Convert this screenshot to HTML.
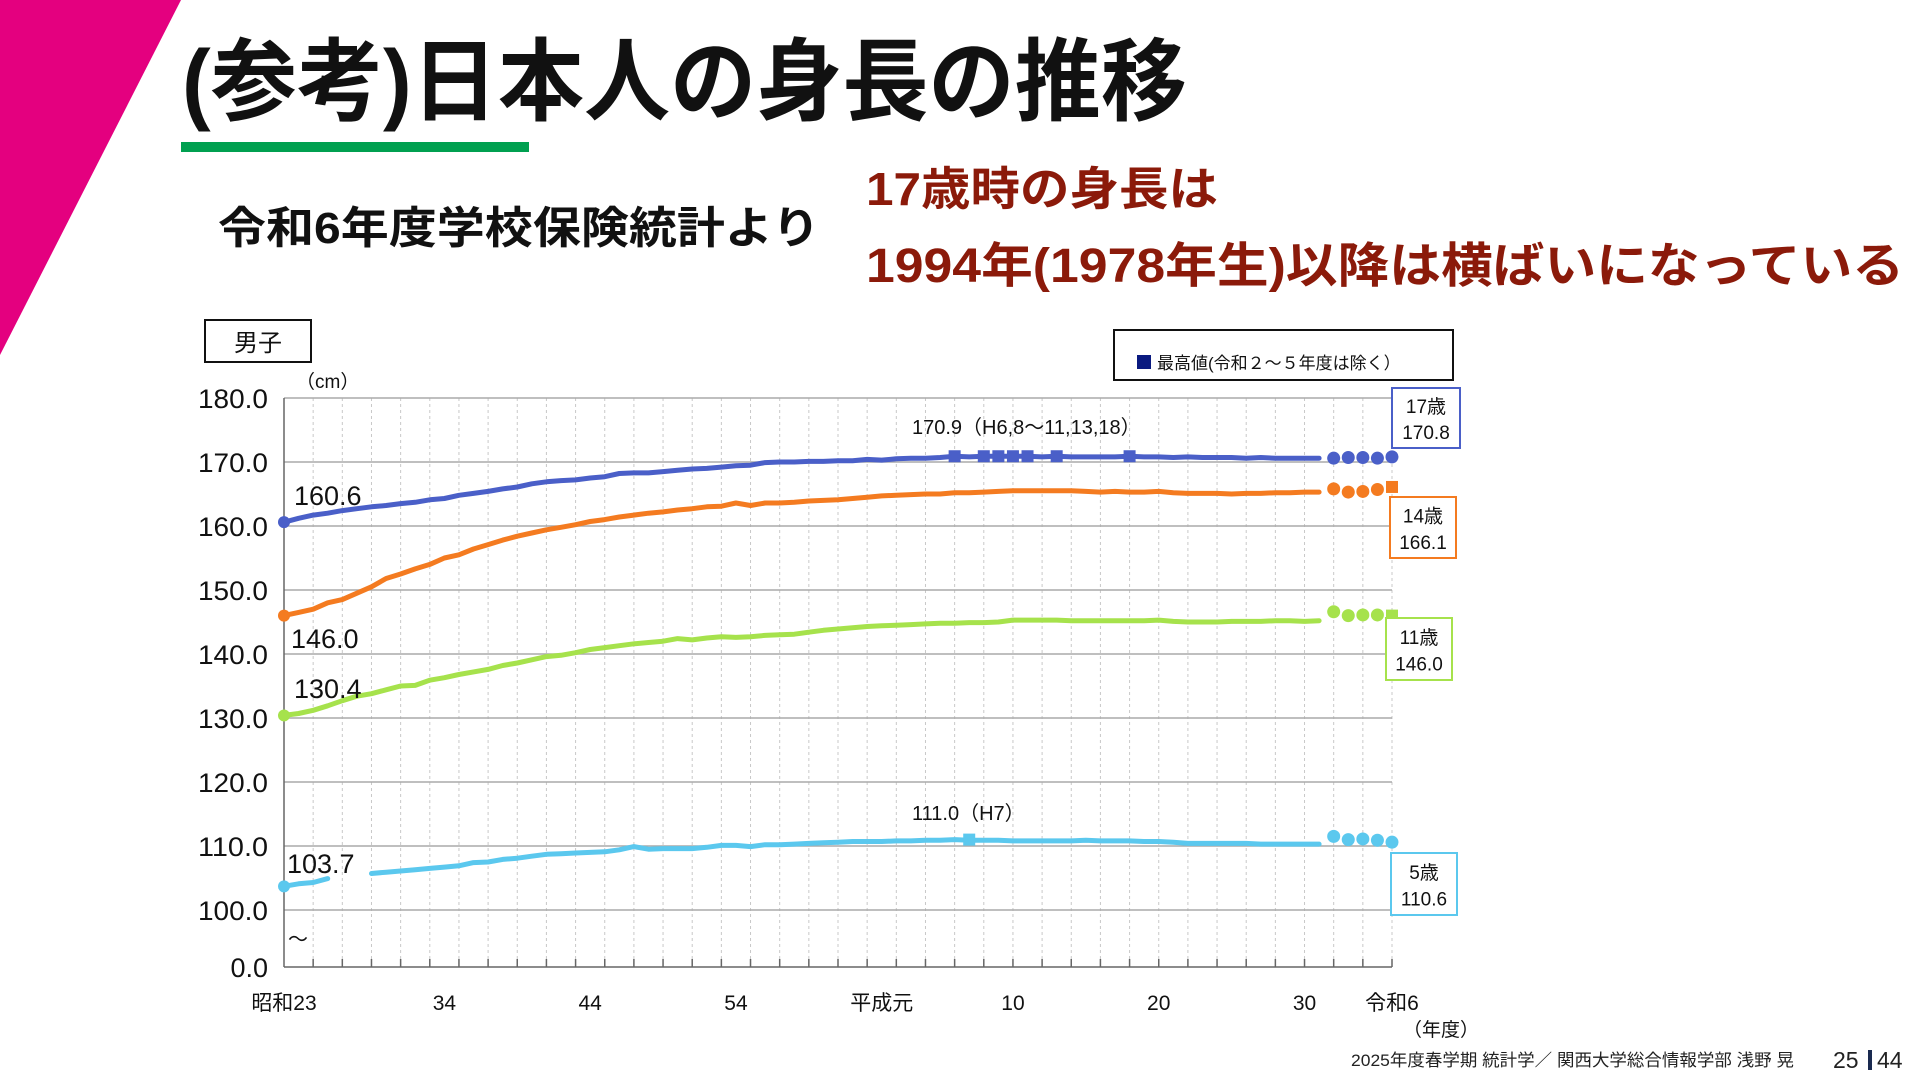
<!DOCTYPE html>
<html><head><meta charset="utf-8"><style>
html,body{margin:0;padding:0;background:#fff;}
svg{display:block;}
text{font-family:"Liberation Sans","Noto Sans CJK JP",sans-serif;}
</style></head><body>
<svg id="c" width="1920" height="1080" viewBox="0 0 1920 1080" xmlns="http://www.w3.org/2000/svg">
<polygon points="0,0 181,0 0,355" fill="#E4007F"/>
<text x="182" y="113" font-size="90" font-weight="bold" fill="#111" textLength="1005" lengthAdjust="spacingAndGlyphs">(参考)日本人の身長の推移</text>
<rect x="181" y="142" width="348" height="10" fill="#00A050"/>
<text x="218" y="243" font-size="44" font-weight="bold" fill="#111" textLength="602" lengthAdjust="spacingAndGlyphs">令和6年度学校保険統計より</text>
<text x="866" y="205" font-size="46" font-weight="bold" fill="#8B1A0A" textLength="352" lengthAdjust="spacingAndGlyphs">17歳時の身長は</text>
<text x="866" y="282" font-size="48" font-weight="bold" fill="#8B1A0A" textLength="1038" lengthAdjust="spacingAndGlyphs">1994年(1978年生)以降は横ばいになっている</text>
<rect x="205" y="320" width="106" height="42" fill="#fff" stroke="#111" stroke-width="2"/>
<text x="258" y="351" font-size="24" text-anchor="middle" fill="#111">男子</text>
<rect x="1114" y="330" width="339" height="50" fill="#fff" stroke="#111" stroke-width="2"/>
<rect x="1137" y="355" width="14" height="14" fill="#0A1A80"/>
<text x="1157" y="369" font-size="17" fill="#111">最高値(令和２～５年度は除く）</text>
<text x="1351" y="1066" font-size="17" fill="#222" textLength="443" lengthAdjust="spacingAndGlyphs">2025年度春学期  統計学／  関西大学総合情報学部  浅野  晃</text>
<text x="1833" y="1068" font-size="23" fill="#222">25</text>
<rect x="1868" y="1050" width="4" height="20" fill="#1A2A50"/>
<text x="1877" y="1068" font-size="23" fill="#222">44</text>
<g id="plot"></g>
</svg>
<script>
const startYear = 1948;
const h17 = [160.6,161.2,161.7,162.0,162.4,162.7,163.0,163.2,163.5,163.7,164.1,164.3,164.8,165.1,165.4,165.8,166.1,166.6,166.9,167.1,167.2,167.5,167.7,168.2,168.3,168.3,168.5,168.7,168.9,169.0,169.2,169.4,169.5,169.9,170.0,170.0,170.1,170.1,170.2,170.2,170.4,170.3,170.5,170.6,170.6,170.7,170.9,170.8,170.9,170.9,170.9,170.9,170.8,170.9,170.8,170.8,170.8,170.8,170.9,170.8,170.8,170.7,170.8,170.7,170.7,170.7,170.6,170.7,170.6,170.6,170.6,170.6];
const h14 = [146.0,146.5,147.0,148.0,148.5,149.5,150.5,151.8,152.5,153.3,154.0,155.0,155.5,156.4,157.1,157.8,158.4,158.9,159.4,159.8,160.2,160.7,161.0,161.4,161.7,162.0,162.2,162.5,162.7,163.0,163.1,163.6,163.2,163.6,163.6,163.7,163.9,164.0,164.1,164.3,164.5,164.7,164.8,164.9,165.0,165.0,165.2,165.2,165.3,165.4,165.5,165.5,165.5,165.5,165.5,165.4,165.3,165.4,165.3,165.3,165.4,165.2,165.1,165.1,165.1,165.0,165.1,165.1,165.2,165.2,165.3,165.3];
const h11 = [130.4,130.7,131.2,131.9,132.7,133.4,133.8,134.4,135.0,135.1,135.9,136.3,136.8,137.2,137.6,138.2,138.6,139.1,139.6,139.8,140.2,140.7,141.0,141.3,141.6,141.8,142.0,142.4,142.2,142.5,142.7,142.6,142.7,142.9,143.0,143.1,143.4,143.7,143.9,144.1,144.3,144.4,144.5,144.6,144.7,144.8,144.8,144.9,144.9,145.0,145.3,145.3,145.3,145.3,145.2,145.2,145.2,145.2,145.2,145.2,145.3,145.1,145.0,145.0,145.0,145.1,145.1,145.1,145.2,145.2,145.1,145.2];
const h5 = [103.7,104.1,104.3,104.9,null,null,105.7,105.9,106.1,106.3,106.5,106.7,106.9,107.4,107.5,107.9,108.1,108.4,108.7,108.8,108.9,109.0,109.1,109.4,109.9,109.5,109.6,109.6,109.6,109.8,110.1,110.1,109.9,110.2,110.2,110.3,110.4,110.5,110.6,110.7,110.7,110.7,110.8,110.8,110.9,110.9,111.0,110.9,110.9,110.9,110.8,110.8,110.8,110.8,110.8,110.9,110.8,110.8,110.8,110.7,110.7,110.6,110.4,110.4,110.4,110.4,110.4,110.3,110.3,110.3,110.3,110.3];
const recent17 = [170.6,170.7,170.7,170.6,170.8];
const recent14 = [165.8,165.3,165.4,165.7,166.1];
const recent11 = [146.6,146.0,146.1,146.1,146.0];
const recent5 = [111.5,111.0,111.1,110.9,110.6];
const recentYears = [2020,2021,2022,2023,2024];
const max17Years = [1994,1996,1997,1998,1999,2001,2006];
const max17Value = 170.9;
const max5Years = [1995];
const max5Value = 111.0;
const yTicks = [100,110,120,130,140,150,160,170,180];
const yTickLabels = ["100.0","110.0","120.0","130.0","140.0","150.0","160.0","170.0","180.0"];
const xTickYears = [1948,1959,1969,1979,1989,1998,2008,2018,2024];
const xTickLabels = ["昭和23","34","44","54","平成元","10","20","30","令和6"];

const NS="http://www.w3.org/2000/svg";
const g=document.getElementById('plot');
const X0=284,X1=1392,Y100=910,Y180=398,YB=967;
function xs(yr){return X0+(yr-1948)*(X1-X0)/76;}
function ys(v){return Y100-(v-100)*(Y100-Y180)/80;}
function mk(tag,attrs,parent){const e=document.createElementNS(NS,tag);for(const k in attrs)e.setAttribute(k,attrs[k]);(parent||g).appendChild(e);return e;}

for(let yr=1950;yr<=2024;yr+=2){
  const l=mk('line',{x1:xs(yr),x2:xs(yr),y1:Y180,y2:YB,stroke:'#c8c8c8','stroke-width':1,'stroke-dasharray':'3,3'});
  
  
  const t=mk('line',{x1:xs(yr),x2:xs(yr),y1:YB,y2:YB-8,stroke:'#666','stroke-width':1.5});
  
  
}
yTicks.forEach((v,i)=>{
  const l=mk('line',{x1:X0,x2:X1,y1:ys(v),y2:ys(v),stroke:'#aaa','stroke-width':1.5});
  
  
  const t=mk('text',{x:268,y:ys(v)+10,'font-size':27,'text-anchor':'end',fill:'#111',textLength:70,lengthAdjust:'spacingAndGlyphs'});
  t.textContent=yTickLabels[i];
  
  
});
{const t=mk('text',{x:268,y:YB+10,'font-size':27,'text-anchor':'end',fill:'#111'});t.textContent='0.0';

}
{const a=mk('line',{x1:X0,x2:X0,y1:Y180,y2:YB,stroke:'#666','stroke-width':1.5});


const b=mk('line',{x1:X0,x2:X1,y1:YB,y2:YB,stroke:'#666','stroke-width':1.5});

}
xTickYears.forEach((yr,i)=>{
  const t=mk('text',{x:xs(yr),y:1010,'font-size':21,'text-anchor':'middle',fill:'#111'});
  t.textContent=xTickLabels[i];
  
  
});
function txt(x,y,s,fs,name,anchor){const t=mk('text',{x:x,y:y,'font-size':fs,fill:'#111','text-anchor':anchor||'start'});t.textContent=s;return t;}
txt(1403,1036,'（年度）',19,'x-axis-unit');
txt(296,388,'（cm）',19,'y-axis-unit');
txt(288,946,'〜',20,'axis-break-mark');

function series(arr,color,name){
  let segs=[],cur=[];
  arr.forEach((v,i)=>{if(v==null){if(cur.length)segs.push(cur);cur=[];}else cur.push(xs(startYear+i).toFixed(1)+','+ys(v).toFixed(1));});
  if(cur.length)segs.push(cur);
  segs.forEach(s=>{const p=mk('polyline',{points:s.join(' '),fill:'none',stroke:color,'stroke-width':5,'stroke-linejoin':'round','stroke-linecap':'round'});
    
    });
  const c=mk('circle',{cx:xs(startYear),cy:ys(arr[0]),r:6,fill:color});
  
  
}
function recent(arr,color,name,lastSquare){
  arr.forEach((v,i)=>{
    const x=xs(recentYears[i]),y=ys(v);
    let e;
    if(lastSquare&&i===arr.length-1)e=mk('rect',{x:x-6,y:y-6,width:12,height:12,fill:color});
    else e=mk('circle',{cx:x,cy:y,r:6.5,fill:color});
    
    
  });
}
function maxes(yrs,v,color,name){
  yrs.forEach(yr=>{const e=mk('rect',{x:xs(yr)-6,y:ys(v)-6,width:12,height:12,fill:color});
    
    });
}
const C17='#4A5FC8',C14='#F47B20',C11='#A6E24C',C5='#5BC8EE';
series(h17,C17,'age17');series(h14,C14,'age14');series(h11,C11,'age11');series(h5,C5,'age5');
recent(recent17,C17,'age17',false);recent(recent14,C14,'age14',true);recent(recent11,C11,'age11',true);recent(recent5,C5,'age5',false);
maxes(max17Years,max17Value,C17,'age17');maxes(max5Years,max5Value,C5,'age5');

txt(294,505,h17[0].toFixed(1),27,'age17-start-label');
txt(291,648,h14[0].toFixed(1),27,'age14-start-label');
txt(294,698,h11[0].toFixed(1),27,'age11-start-label');
txt(287,873,h5[0].toFixed(1),27,'age5-start-label');
txt(912,434,max17Value.toFixed(1)+'（H6,8〜11,13,18）',20,'age17-max-label');
txt(912,820,max5Value.toFixed(1)+'（H7）',20,'age5-max-label');

function box(x,y,w,h,color,l1,l2,name){
  const r=mk('rect',{x:x,y:y,width:w,height:h,fill:'#fff',stroke:color,'stroke-width':2});
  
  
  txt(x+w/2,y+h*0.42,l1,19,name+'-age','middle');
  txt(x+w/2,y+h*0.85,l2,19,name+'-value','middle');
}
box(1392,388,68,60,C17,'17歳',recent17[4].toFixed(1),'age17-label');
box(1390,497,66,61,C14,'14歳',recent14[4].toFixed(1),'age14-label');
box(1386,618,66,62,C11,'11歳',recent11[4].toFixed(1),'age11-label');
box(1391,853,66,62,C5,'5歳',recent5[4].toFixed(1),'age5-label');
</script>
</body></html>
